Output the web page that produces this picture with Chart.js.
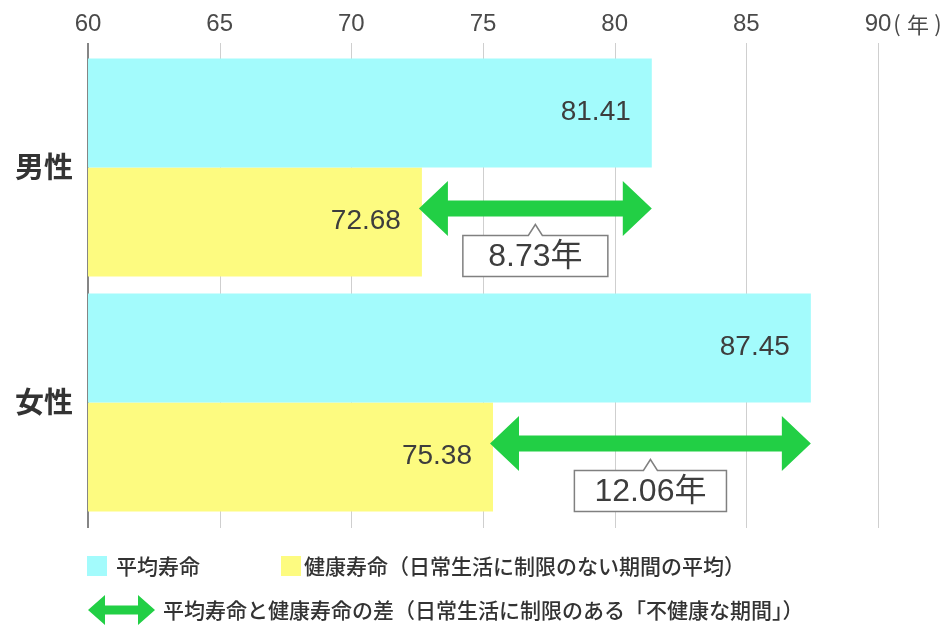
<!DOCTYPE html>
<html><head><meta charset="utf-8">
<script src="https://cdn.jsdelivr.net/npm/chart.js@4"></script>
<style>html,body{margin:0;padding:0;background:#fff;}canvas{display:block;}</style>
</head><body>
<canvas id="c" width="944" height="627"></canvas>
<script>
const categories = ['男性', '女性'];
const averageLife = [81.41, 87.45];
const healthyLife = [72.68, 75.38];
const gapYears = ['8.73年', '12.06年'];
const xTicks = [60, 65, 70, 75, 80, 85, 90];
const seriesNames = ['平均寿命', '健康寿命（日常生活に制限のない期間の平均）'];
const gapLegend = '平均寿命と健康寿命の差（日常生活に制限のある「不健康な期間」）';
const unitLabel = ['(', '年', ')'];

const CYAN = '#a3fbfc';
const YELLOW = '#fdfb80';
const GREEN = '#22cf45';
const TEXT = '#3d3d3d';
const FONT = '"Liberation Sans", "Noto Sans CJK JP", sans-serif';
const JFONT = '"Noto Sans CJK JP", sans-serif';

function arrow(ctx, x1, x2, y, shaft, headL, headH) {
  ctx.beginPath();
  ctx.moveTo(x1, y);
  ctx.lineTo(x1 + headL, y - headH / 2);
  ctx.lineTo(x1 + headL, y - shaft / 2);
  ctx.lineTo(x2 - headL, y - shaft / 2);
  ctx.lineTo(x2 - headL, y - headH / 2);
  ctx.lineTo(x2, y);
  ctx.lineTo(x2 - headL, y + headH / 2);
  ctx.lineTo(x2 - headL, y + shaft / 2);
  ctx.lineTo(x1 + headL, y + shaft / 2);
  ctx.lineTo(x1 + headL, y + headH / 2);
  ctx.closePath();
  ctx.fillStyle = GREEN;
  ctx.fill();
}

const decor = {
  id: 'decor',
  beforeDatasetsDraw(chart) {
    const ctx = chart.ctx, xs = chart.scales.x;
    ctx.save();
    xTicks.forEach((t, i) => {
      const x = Math.round(xs.getPixelForValue(t));
      ctx.beginPath();
      if (i === 0) { ctx.strokeStyle = '#858585'; ctx.lineWidth = 2; ctx.moveTo(x, 43); ctx.lineTo(x, 528); }
      else { ctx.strokeStyle = '#cfcfcf'; ctx.lineWidth = 1; ctx.moveTo(x + 0.5, 43); ctx.lineTo(x + 0.5, 528); }
      ctx.stroke();
    });
    ctx.fillStyle = '#4a4a4a';
    ctx.font = '24px ' + FONT;
    ctx.textAlign = 'center';
    ctx.textBaseline = 'middle';
    xTicks.forEach(t => {
      ctx.fillText(String(t), xs.getPixelForValue(t), 24);
    });
    const xl = xs.getPixelForValue(xTicks[xTicks.length - 1]);
    ctx.font = '22px ' + JFONT;
    ctx.fillText(unitLabel[0], xl + 19, 24);
    ctx.fillText(unitLabel[1], xl + 40, 25);
    ctx.fillText(unitLabel[2], xl + 60, 24);
    ctx.restore();
  },
  afterDatasetsDraw(chart) {
    const ctx = chart.ctx, xs = chart.scales.x, ys = chart.scales.y;
    const m0 = chart.getDatasetMeta(0), m1 = chart.getDatasetMeta(1);
    ctx.save();
    ctx.fillStyle = '#333';
    ctx.font = 'bold 29px ' + JFONT;
    ctx.textAlign = 'right';
    ctx.textBaseline = 'middle';
    categories.forEach((c, i) => ctx.fillText(c, 73, ys.getPixelForValue(i) - 1));
    ctx.font = '28px ' + FONT;
    ctx.fillStyle = TEXT;
    [m0, m1].forEach((m, di) => {
      const vals = di === 0 ? averageLife : healthyLife;
      m.data.forEach((bar, i) => {
        ctx.fillText(vals[i].toFixed(2), bar.x - 21, bar.y - 1);
      });
    });
    m1.data.forEach((bar, i) => {
      const x1 = xs.getPixelForValue(healthyLife[i]) - 3;
      const x2 = xs.getPixelForValue(averageLife[i]);
      const y = bar.y - bar.height / 2 + 41;
      arrow(ctx, x1, x2, y, 16, 29, 55);
      const cx = (x1 + x2) / 2;
      ctx.font = '32px ' + FONT;
      const label = gapYears[i];
      const w = Math.max(145, ctx.measureText(label).width + 40);
      const top = y + 27, h = 41, left = cx - w / 2, right = cx + w / 2;
      ctx.beginPath();
      ctx.moveTo(left, top);
      ctx.lineTo(cx - 7, top);
      ctx.lineTo(cx, top - 11);
      ctx.lineTo(cx + 7, top);
      ctx.lineTo(right, top);
      ctx.lineTo(right, top + h);
      ctx.lineTo(left, top + h);
      ctx.closePath();
      ctx.fillStyle = '#fff';
      ctx.fill();
      ctx.strokeStyle = '#808080';
      ctx.lineWidth = 1.5;
      ctx.stroke();
      ctx.fillStyle = TEXT;
      ctx.textAlign = 'center';
      ctx.fillText(label, cx, top + h / 2 + 1);
    });
    ctx.textAlign = 'left';
    ctx.textBaseline = 'middle';
    ctx.font = '500 21px ' + JFONT;
    ctx.fillStyle = CYAN; ctx.fillRect(87, 556, 20, 20);
    ctx.fillStyle = YELLOW; ctx.fillRect(281, 556, 20, 20);
    ctx.fillStyle = '#333';
    ctx.fillText(seriesNames[0], 116, 566);
    ctx.fillText(seriesNames[1], 304, 566);
    arrow(ctx, 88, 155, 610, 9, 17, 30);
    ctx.fillStyle = '#333';
    ctx.fillText(gapLegend, 163, 610);
    ctx.restore();
  }
};

new Chart(document.getElementById('c'), {
  type: 'bar',
  data: {
    labels: categories,
    datasets: [
      { label: seriesNames[0], data: averageLife, backgroundColor: CYAN, borderWidth: 0 },
      { label: seriesNames[1], data: healthyLife, backgroundColor: YELLOW, borderWidth: 0 }
    ]
  },
  options: {
    indexAxis: 'y',
    responsive: false,
    animation: false,
    devicePixelRatio: 1,
    categoryPercentage: 0.928,
    barPercentage: 1.0,
    layout: { padding: { left: 88, right: 66, top: 50, bottom: 107 } },
    scales: {
      x: { display: false, min: 60, max: 90 },
      y: { display: false }
    },
    plugins: { legend: { display: false }, tooltip: { enabled: false } }
  },
  plugins: [decor]
});
</script>
</body></html>
